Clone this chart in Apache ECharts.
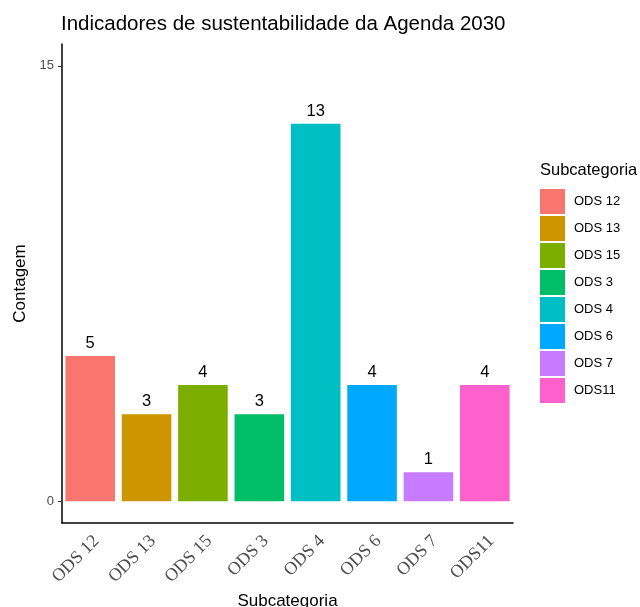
<!DOCTYPE html>
<html><head><meta charset="utf-8">
<script src="https://cdn.jsdelivr.net/npm/echarts@6/dist/echarts.min.js"></script>
<style>html,body{margin:0;padding:0;background:#fff}#c{width:640px;height:607px}</style>
</head><body><div id="c"></div>
<script>
const categories = ['ODS 12','ODS 13','ODS 15','ODS 3','ODS 4','ODS 6','ODS 7','ODS11'];
const counts = [5,3,4,3,13,4,1,4];
const colors = ['#F8766D','#CD9600','#7CAE00','#00BE67','#00BFC4','#00A9FF','#C77CFF','#FF61CC'];
const yTicks = [0,15];

const chart = echarts.init(document.getElementById('c'));
const series = categories.map((c,i)=>({
  name:c, type:'bar', stack:'all', barWidth:'88%',
  data: categories.map((_,j)=> j===i ? counts[i] : '-'),
  itemStyle:{color:colors[i]},
  label:{show:true, position:'top', color:'#000', fontSize:16.5, fontFamily:'Liberation Sans', distance:4},
  emphasis:{disabled:true}
}));
chart.setOption({
  animation:false,
  title:{text:'Indicadores de sustentabilidade da Agenda 2030', left:56, top:9,
    textStyle:{fontFamily:'Liberation Sans', fontSize:20.5, fontWeight:'normal', color:'#000'}},
  legend:{orient:'vertical', left:535, top:184, icon:'rect', itemWidth:25, itemHeight:25, itemGap:2,
    data:categories, selectedMode:false,
    textStyle:{fontFamily:'Liberation Sans', fontSize:13, color:'#000', padding:[0,0,0,4]}},
  graphic:[{type:'text', left:540, top:162, style:{text:'Subcategoria', font:'16.5px "Liberation Sans"', fill:'#000'}}],
  grid:{left:62, right:127, top:44, bottom:84, containLabel:false, outerBoundsMode:'none'},
  xAxis:{type:'category', data:categories, boundaryGap:true,
    name:'Subcategoria', nameLocation:'middle', nameGap:66,
    nameTextStyle:{fontFamily:'Liberation Sans', fontSize:17, color:'#000'},
    axisLine:{onZero:false, lineStyle:{color:'#000', width:1.5}},
    axisTick:{alignWithLabel:true, length:5, lineStyle:{color:'#333'}},
    axisLabel:{rotate:45, interval:0, fontFamily:'Liberation Serif', fontSize:18, color:'#4d4d4d', margin:9, verticalAlign:'top'}},
  yAxis:{type:'value', min:-0.75, max:15.75,
    name:'Contagem', nameLocation:'middle', nameGap:24,
    nameTextStyle:{fontFamily:'Liberation Sans', fontSize:17, color:'#000'},
    splitLine:{show:false},
    axisLine:{show:true, onZero:false, lineStyle:{color:'#000', width:1.5}},
    axisTick:{show:true, length:4, lineStyle:{color:'#333'}, customValues:yTicks},
    axisLabel:{fontFamily:'Liberation Sans', fontSize:13, color:'#4d4d4d', customValues:yTicks, margin:8}},
  series:series
});
</script></body></html>
